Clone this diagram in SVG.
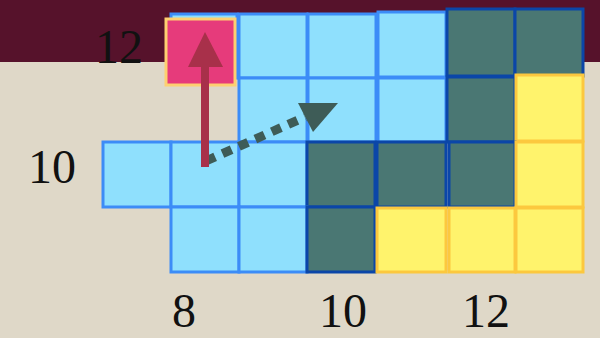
<svg xmlns="http://www.w3.org/2000/svg" width="600" height="338" viewBox="0 0 600 338">
<defs>
<style>
.b{fill:#8fe0fd;stroke:#3c8cf7;stroke-width:3}
.d{fill:#4a7773;stroke:#0b46a8;stroke-width:3}
.y{fill:#fff36c;stroke:#fcc83e;stroke-width:3}
.p{fill:#e63b7b;stroke:#fdd071;stroke-width:3}
.t{font-family:"Liberation Serif","Times New Roman",serif;font-size:48px;fill:#111;text-anchor:middle}
</style>
</defs>
<rect x="0" y="0" width="600" height="338" fill="#dfd8c8"/>
<rect x="0" y="0" width="600" height="62" fill="#56122b"/>
<g id="cells">
<g id="r0">
<rect class="b" x="171" y="14" width="66" height="64"/>
<rect class="b" x="239" y="14" width="68" height="64"/>
<rect class="b" x="308" y="14" width="68" height="64"/>
<rect class="b" x="378" y="12" width="68" height="65"/>
<rect class="d" x="447" y="9" width="68" height="67"/>
<rect class="d" x="515" y="9" width="68" height="67"/>
</g>
<g id="r1">
<rect class="b" x="239" y="78" width="68" height="64"/>
<rect class="b" x="308" y="78" width="68" height="64"/>
<rect class="b" x="378" y="78" width="68" height="64"/>
<rect class="d" x="447" y="77" width="68" height="65"/>
<rect class="y" x="516" y="75" width="67" height="66"/>
</g>
<g id="r2">
<rect class="b" x="103" y="142" width="68" height="65"/>
<rect class="b" x="171" y="142" width="68" height="65"/>
<rect class="b" x="239" y="142" width="68" height="65"/>
<rect class="d" x="307" y="142" width="68" height="65"/>
<rect class="d" x="377" y="142" width="69" height="65"/>
<rect class="d" x="449" y="142" width="66" height="65"/>
<rect class="y" x="516" y="142" width="67" height="65"/>
</g>
<g id="r3">
<rect class="b" x="171" y="207" width="68" height="65"/>
<rect class="b" x="239" y="207" width="68" height="65"/>
<rect class="d" x="307" y="207" width="68" height="65"/>
<rect class="y" x="377" y="208" width="69" height="64"/>
<rect class="y" x="449" y="208" width="66" height="64"/>
<rect class="y" x="516" y="208" width="67" height="64"/>
</g>
<g id="pink">
<rect class="p" x="166" y="19" width="69" height="66"/>
</g>
</g>
<g id="connectors">
<path d="M206 161 L305 117" stroke="#3e5c57" stroke-width="9" fill="none" stroke-dasharray="10 8"/>
<polygon points="298,103 338,103 313,132" fill="#3e5c57"/>
<line x1="205" y1="167" x2="205" y2="62" stroke="#a8304a" stroke-width="8"/>
<polygon points="188,67 223,67 205,32" fill="#a8304a"/>
</g>
<g id="labels">
<text class="t" x="119" y="63">12</text>
<text class="t" x="52" y="183">10</text>
<text class="t" x="184" y="327">8</text>
<text class="t" x="343" y="327">10</text>
<text class="t" x="486" y="327">12</text>
</g>
</svg>
